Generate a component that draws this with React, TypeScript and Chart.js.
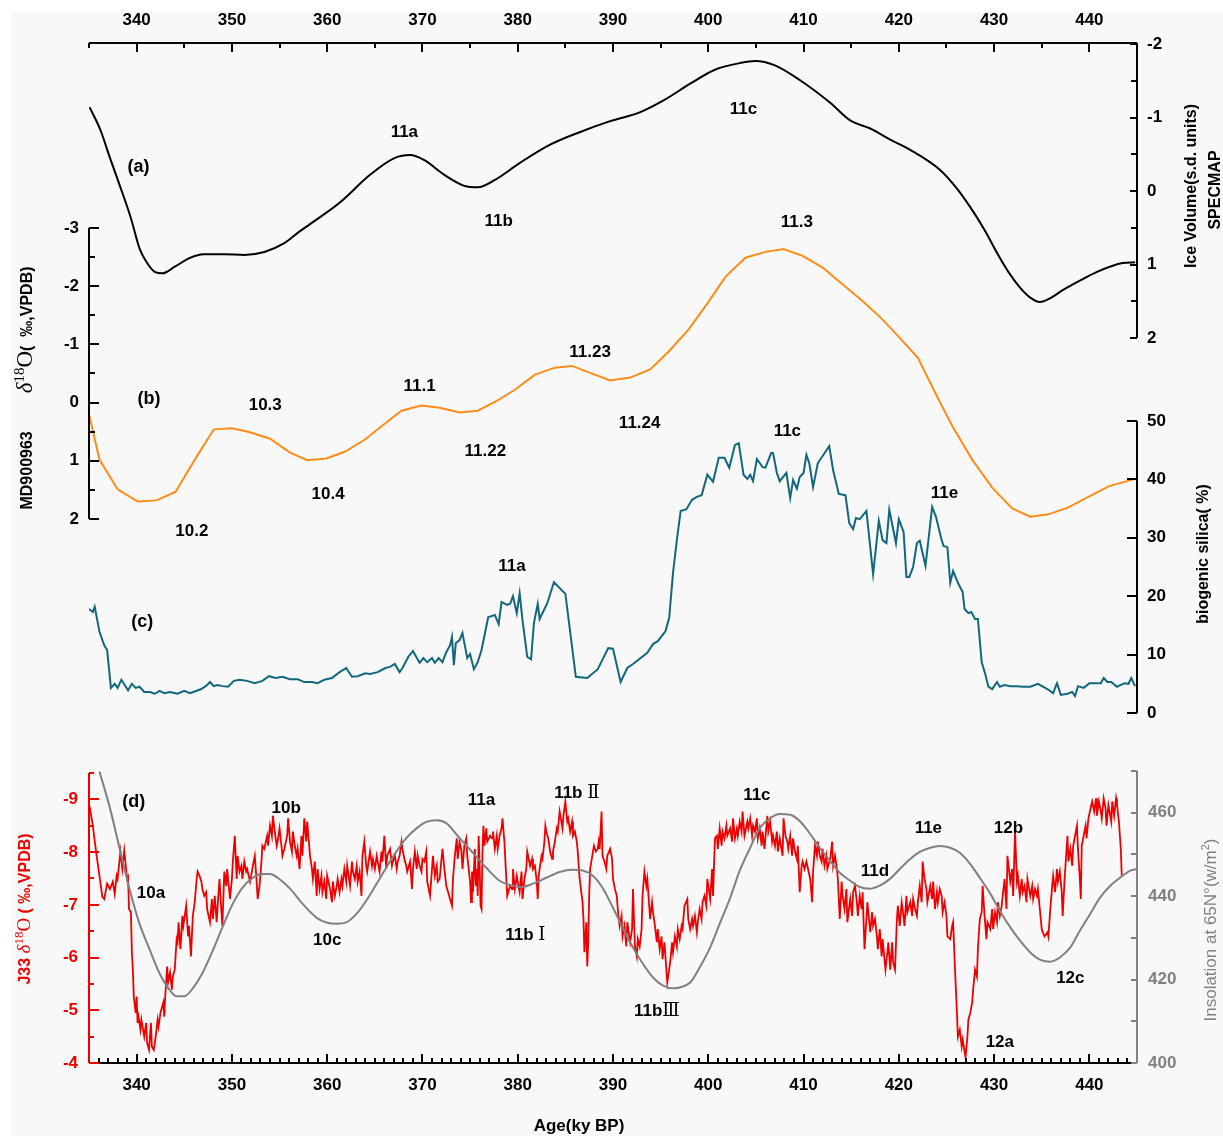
import { useEffect, useRef } from 'react';
import { Chart, registerables } from 'chart.js';

Chart.register(...registerables);

// ---------------- tick labels ----------------
const ageTicks = [340, 350, 360, 370, 380, 390, 400, 410, 420, 430, 440];
const specmapTicks = [-2, -1, 0, 1, 2];
const md900963Ticks = [-3, -2, -1, 0, 1, 2];
const silicaTicks = [0, 10, 20, 30, 40, 50];
const j33Ticks = [-9, -8, -7, -6, -5, -4];
const insolationTicks = [400, 420, 440, 460];

// ---------------- series (age ky BP, value) ----------------
const specmap: [number, number][] = [
  [335.06, -1.14], [336.2, -0.83], [337.2, -0.45], [338.3, -0.05], [339.4, 0.37], [340.3, 0.78], [341.0, 0.96],
  [341.9, 1.1], [342.7, 1.12], [344.0, 1.03], [345.6, 0.91], [347.0, 0.86], [349.2, 0.86], [351.3, 0.87],
  [353.4, 0.83], [355.5, 0.71], [356.9, 0.57], [358.2, 0.45], [361.3, 0.16], [364.5, -0.22], [367.1, -0.45],
  [368.7, -0.49], [370.2, -0.42], [372.3, -0.22], [374.4, -0.07], [375.8, -0.05], [377.6, -0.15], [380.2, -0.38],
  [383.4, -0.63], [386.5, -0.8], [389.7, -0.95], [392.8, -1.07], [395.4, -1.24], [398.1, -1.46], [400.7, -1.65],
  [403.3, -1.74], [404.9, -1.77], [407.0, -1.71], [409.6, -1.51], [412.8, -1.2], [414.9, -0.96], [417.0, -0.85],
  [419.1, -0.7], [421.2, -0.56], [424.3, -0.29], [426.0, -0.05], [427.5, 0.22], [429.0, 0.53], [430.3, 0.84],
  [431.5, 1.1], [432.7, 1.31], [433.8, 1.45], [434.8, 1.51], [436.0, 1.45], [437.2, 1.35], [439.0, 1.22],
  [440.8, 1.1], [443.5, 0.98], [444.8, 0.97],
];

const md900963: [number, number][] = [
  [335.06, 0.24], [336.1, 0.98], [338.0, 1.49], [340.1, 1.7], [342.1, 1.68], [344.1, 1.53], [346.1, 0.98],
  [348.1, 0.46], [350.0, 0.44], [351.9, 0.51], [354.0, 0.62], [356.1, 0.86], [357.9, 0.99], [359.9, 0.96],
  [361.9, 0.84], [364.0, 0.63], [365.9, 0.38], [367.8, 0.14], [369.9, 0.05], [371.8, 0.09], [373.9, 0.17],
  [375.8, 0.14], [377.8, -0.03], [379.7, -0.22], [381.8, -0.48], [383.9, -0.6], [385.7, -0.63], [387.6, -0.51],
  [389.7, -0.38], [391.8, -0.43], [393.9, -0.57], [395.8, -0.87], [397.9, -1.25], [399.8, -1.68], [401.8, -2.16],
  [403.9, -2.49], [406.0, -2.59], [407.9, -2.64], [409.9, -2.52], [412.0, -2.32], [413.9, -2.06], [416.0, -1.77],
  [418.1, -1.46], [420.0, -1.13], [422.0, -0.77], [424.0, -0.11], [425.7, 0.43], [427.7, 0.98], [429.8, 1.46],
  [431.9, 1.82], [433.8, 1.96], [435.7, 1.92], [437.8, 1.8], [439.9, 1.62], [442.0, 1.44], [444.8, 1.31],
];

const silica: [number, number][] = [
  [335.0, 17.8], [335.4, 17.3], [335.6, 18.2], [336.1, 13.9], [336.6, 11.6], [336.9, 10.8], [337.3, 4.3],
  [337.7, 5.0], [338.0, 4.3], [338.4, 5.7], [339.1, 3.9], [339.5, 5.0], [339.9, 4.3], [340.3, 4.5], [340.8, 3.6],
  [341.4, 3.6], [341.9, 3.3], [342.4, 3.8], [342.9, 3.4], [343.5, 3.6], [344.3, 3.3], [345.0, 3.8], [345.6, 3.4],
  [346.3, 3.8], [346.8, 4.1], [347.4, 4.8], [347.7, 5.3], [348.1, 4.6], [348.5, 4.8], [349.0, 4.6], [349.6, 4.5],
  [350.2, 5.5], [350.8, 5.7], [351.6, 5.5], [352.4, 5.1], [353.2, 5.5], [353.9, 6.3], [354.6, 6.0], [355.3, 6.2],
  [356.1, 5.8], [356.9, 5.8], [357.6, 5.3], [358.4, 5.3], [359.0, 5.1], [359.7, 5.7], [360.5, 6.0], [361.3, 7.0],
  [362.0, 7.7], [362.6, 6.2], [363.2, 6.3], [364.0, 6.8], [364.5, 6.7], [365.3, 7.0], [366.1, 7.7], [366.6, 7.9],
  [367.1, 8.4], [367.6, 7.0], [367.9, 7.7], [368.5, 9.6], [369.0, 10.6], [369.7, 8.6], [370.1, 9.4], [370.5, 8.7],
  [371.0, 9.4], [371.3, 8.6], [371.7, 9.4], [372.1, 8.7], [372.5, 10.4], [372.9, 11.6], [373.1, 13.0], [373.3, 8.2],
  [373.5, 12.0], [373.9, 12.5], [374.2, 13.7], [374.7, 9.4], [375.0, 10.1], [375.4, 7.5], [375.8, 8.7], [376.2, 10.8],
  [376.9, 16.4], [377.6, 16.8], [378.0, 15.2], [378.3, 19.0], [378.9, 18.5], [379.2, 18.7], [379.5, 20.0],
  [379.9, 17.1], [380.2, 20.5], [380.5, 15.9], [381.0, 9.6], [381.4, 9.2], [381.7, 15.4], [382.1, 18.7],
  [382.3, 16.1], [383.1, 18.8], [383.8, 22.4], [385.0, 20.4], [386.1, 6.2], [387.3, 6.0], [388.4, 7.5],
  [389.5, 11.1], [390.0, 11.0], [390.8, 5.3], [391.5, 7.7], [392.1, 8.4], [393.6, 10.3], [394.2, 11.8],
  [394.7, 12.3], [395.5, 14.0], [395.9, 16.3], [396.3, 24.0], [396.7, 29.6], [397.1, 34.6], [397.7, 34.9],
  [398.3, 36.5], [398.8, 37.0], [399.3, 37.3], [399.9, 40.8], [400.5, 39.6], [401.1, 43.7], [401.7, 43.7],
  [402.2, 42.0], [402.8, 45.9], [403.2, 46.2], [403.7, 40.8], [404.1, 40.1], [404.4, 40.8], [404.7, 39.7],
  [405.1, 43.5], [405.7, 42.1], [406.0, 42.0], [406.6, 44.5], [406.8, 44.5], [407.2, 41.1], [407.5, 39.7],
  [408.2, 41.1], [408.6, 36.8], [408.9, 39.9], [409.3, 38.4], [409.6, 40.4], [410.0, 41.1], [410.3, 44.2],
  [410.6, 42.8], [411.0, 38.7], [411.5, 42.8], [412.7, 45.7], [413.1, 41.6], [413.7, 37.5], [414.4, 37.3],
  [414.8, 32.5], [415.2, 31.5], [415.5, 33.4], [415.9, 33.2], [416.6, 34.6], [417.3, 23.8], [417.6, 28.3],
  [417.9, 32.9], [418.3, 29.6], [418.7, 29.1], [419.0, 34.8], [419.7, 29.1], [420.0, 33.2], [420.5, 31.0],
  [420.8, 23.3], [421.1, 23.3], [421.5, 25.0], [421.9, 29.1], [422.2, 29.5], [422.8, 25.2], [423.5, 35.3],
  [423.9, 33.6], [424.5, 29.6], [424.7, 28.6], [425.1, 28.4], [425.4, 22.3], [425.7, 24.3], [426.2, 22.3],
  [426.7, 20.7], [426.9, 17.8], [427.3, 17.1], [427.6, 17.3], [428.0, 16.1], [428.3, 16.1], [428.7, 8.7],
  [429.1, 6.5], [429.4, 4.5], [429.8, 4.1], [430.3, 5.3], [430.6, 4.5], [431.1, 4.8], [431.7, 4.6], [432.4, 4.6],
  [433.1, 4.5], [433.8, 4.5], [434.6, 5.0], [435.6, 4.1], [436.2, 3.4], [436.6, 5.1], [437.0, 3.1], [437.7, 3.3],
  [438.2, 3.6], [438.5, 2.9], [438.8, 4.6], [439.4, 4.3], [440.0, 5.1], [441.2, 5.1], [441.5, 6.0], [441.9, 5.3],
  [442.3, 5.3], [442.9, 4.5], [443.7, 5.1], [444.1, 5.0], [444.4, 6.0], [444.8, 4.6],
];

const insolation: [number, number][] = [
  [336.1, 469.9], [337.2, 461.1], [338.2, 451.6], [339.3, 441.3], [340.3, 433.4], [341.4, 427.0], [342.4, 421.5],
  [343.5, 417.4], [344.2, 416.0], [345.0, 416.0], [345.9, 417.9], [346.9, 421.5], [348.0, 427.0], [349.0, 432.5],
  [350.1, 438.2], [351.1, 442.0], [352.2, 444.4], [353.1, 445.3], [354.0, 445.3], [354.8, 444.4], [356.1, 441.8],
  [357.4, 438.2], [358.9, 434.8], [359.9, 433.7], [361.0, 433.4], [362.0, 433.7], [363.1, 435.8], [364.1, 438.9],
  [365.2, 443.0], [366.2, 446.8], [367.3, 450.8], [368.3, 453.9], [369.4, 456.3], [370.4, 457.8], [371.5, 458.2],
  [372.5, 457.5], [373.9, 453.9], [375.3, 450.4], [376.7, 446.8], [378.1, 443.7], [379.5, 442.5], [380.5, 442.2],
  [381.6, 443.0], [383.0, 444.4], [384.4, 445.8], [385.8, 446.3], [386.9, 446.1], [387.9, 444.9], [388.9, 442.0],
  [390.0, 437.2], [391.0, 432.5], [392.1, 427.7], [393.1, 423.9], [394.2, 420.5], [395.2, 418.6], [396.3, 417.9],
  [397.0, 418.1], [398.1, 419.3], [399.1, 422.9], [400.2, 427.7], [401.2, 433.4], [402.3, 439.6], [403.3, 446.1],
  [404.4, 451.6], [405.4, 456.3], [406.5, 458.7], [407.5, 459.7], [408.6, 459.5], [409.6, 458.0], [410.7, 454.9],
  [411.7, 451.6], [412.8, 448.4], [413.8, 445.6], [414.9, 443.7], [415.9, 442.2], [417.0, 441.8], [418.0, 442.5],
  [419.1, 444.2], [420.1, 446.5], [421.2, 448.9], [422.2, 450.6], [423.3, 451.6], [424.3, 452.0], [425.4, 451.6],
  [426.4, 450.4], [427.5, 447.7], [428.5, 444.4], [429.6, 440.6], [430.6, 436.5], [431.7, 432.5], [432.7, 429.4],
  [433.8, 426.5], [434.8, 424.8], [435.9, 424.3], [436.9, 425.3], [438.0, 427.7], [439.0, 431.7], [440.1, 435.8],
  [441.1, 439.6], [442.2, 442.5], [443.2, 444.4], [444.3, 446.1], [445.0, 446.5],
];

const j33: [number, number][] = [
  [335.06, -8.87], [335.4, -8.5], [335.8, -7.93], [336.1, -7.55], [336.4, -7.15], [336.6, -7.11], [336.9, -7.4],
  [337.2, -7.3], [337.5, -7.44], [337.7, -7.21], [337.9, -7.55], [338.0, -7.49], [338.3, -8.01], [338.5, -7.68],
  [338.7, -8.03], [339.0, -7.49], [339.1, -7.53], [339.2, -6.92], [339.4, -6.86], [339.5, -6.1], [339.6, -5.77],
  [339.7, -5.26], [339.9, -4.95], [340.0, -5.26], [340.1, -4.76], [340.2, -4.88], [340.4, -4.63], [340.5, -4.82],
  [340.8, -4.5], [341.0, -4.76], [341.1, -4.38], [341.3, -4.25], [341.5, -4.76], [341.6, -4.31], [341.8, -4.25],
  [342.0, -4.5], [342.2, -4.82], [342.3, -4.69], [342.5, -4.95], [342.8, -5.15], [342.9, -4.88], [343.0, -5.26],
  [343.2, -5.83], [343.3, -5.53], [343.5, -5.72], [343.7, -5.39], [343.8, -5.64], [344.0, -5.77], [344.2, -6.35],
  [344.3, -6.29], [344.4, -6.67], [344.6, -6.16], [344.8, -6.79], [344.9, -6.6], [345.2, -6.98], [345.4, -6.4],
  [345.5, -6.6], [345.7, -6.02], [345.9, -6.79], [346.1, -7.05], [346.3, -7.49], [346.4, -7.63], [346.6, -7.55],
  [346.8, -7.44], [346.9, -7.3], [347.1, -7.17], [347.3, -7.24], [347.4, -6.92], [347.7, -6.67], [347.9, -7.11],
  [348.0, -6.73], [348.2, -7.17], [348.4, -6.67], [348.5, -6.98], [348.7, -7.49], [348.9, -6.86], [349.0, -6.6],
  [349.2, -7.63], [349.4, -7.36], [349.5, -7.68], [349.8, -7.11], [350.0, -7.49], [350.1, -7.82], [350.3, -8.31],
  [350.5, -7.49], [350.6, -7.93], [350.8, -7.63], [351.0, -7.74], [351.1, -7.49], [351.3, -7.82], [351.5, -7.63],
  [351.6, -7.68], [351.9, -7.44], [352.1, -7.63], [352.2, -7.74], [352.4, -7.93], [352.6, -7.44], [352.7, -7.11],
  [352.9, -7.36], [353.1, -7.82], [353.2, -8.12], [353.4, -8.06], [353.7, -8.31], [353.8, -8.12], [354.0, -8.5],
  [354.2, -8.31], [354.3, -8.69], [354.5, -8.39], [354.7, -8.12], [354.8, -8.2], [355.0, -8.45], [355.2, -8.12],
  [355.3, -7.93], [355.5, -8.06], [355.8, -8.31], [355.9, -8.64], [356.1, -8.2], [356.3, -8.01], [356.4, -8.39],
  [356.6, -8.12], [356.8, -7.93], [356.9, -8.06], [357.1, -7.68], [357.3, -8.31], [357.4, -7.93], [357.6, -8.64],
  [357.8, -8.2], [357.9, -8.58], [358.2, -7.93], [358.4, -7.68], [358.5, -7.49], [358.7, -7.82], [358.9, -7.17],
  [359.0, -7.68], [359.2, -7.3], [359.4, -7.55], [359.5, -7.24], [359.7, -7.44], [359.9, -7.11], [360.0, -7.55],
  [360.3, -7.3], [360.5, -7.05], [360.6, -7.44], [360.8, -7.17], [361.0, -7.36], [361.1, -7.49], [361.3, -7.24],
  [361.5, -7.49], [361.6, -7.36], [361.8, -7.68], [362.0, -7.44], [362.1, -7.74], [362.4, -7.36], [362.6, -7.82],
  [362.7, -7.63], [362.9, -7.49], [363.1, -7.74], [363.2, -7.44], [363.4, -7.63], [363.6, -7.17], [363.7, -7.93],
  [363.9, -8.2], [364.1, -7.74], [364.2, -7.63], [364.5, -8.01], [364.7, -7.74], [364.8, -7.87], [365.0, -7.68],
  [365.2, -7.93], [365.3, -7.82], [365.5, -7.63], [365.7, -8.01], [365.8, -7.82], [366.0, -8.31], [366.2, -7.68],
  [366.3, -7.93], [366.6, -8.06], [366.8, -7.74], [366.9, -7.82], [367.1, -7.93], [367.3, -7.68], [367.4, -7.82],
  [367.6, -7.93], [367.8, -8.2], [367.9, -8.06], [368.1, -7.87], [368.3, -7.74], [368.4, -7.63], [368.7, -7.82],
  [368.9, -7.3], [369.0, -7.68], [369.2, -8.01], [369.4, -7.68], [369.5, -7.93], [369.7, -7.74], [369.9, -7.63],
  [370.0, -7.87], [370.2, -7.82], [370.4, -8.01], [370.5, -7.44], [370.8, -7.17], [371.0, -7.68], [371.1, -7.93],
  [371.3, -7.55], [371.5, -7.74], [371.6, -7.44], [371.8, -7.49], [372.1, -8.06], [372.3, -7.68], [372.5, -7.36],
  [372.8, -7.17], [373.1, -6.98], [373.2, -7.49], [373.4, -7.93], [373.6, -8.26], [373.7, -7.87], [373.9, -8.2],
  [374.1, -8.01], [374.2, -7.68], [374.4, -8.12], [374.6, -8.26], [374.7, -7.93], [375.0, -7.44], [375.1, -7.05],
  [375.2, -7.63], [375.3, -7.24], [375.5, -8.06], [375.6, -7.36], [375.7, -7.68], [375.8, -7.17], [375.9, -8.31],
  [376.0, -7.74], [376.1, -6.98], [376.2, -6.92], [376.3, -8.01], [376.4, -8.5], [376.5, -8.12], [376.7, -8.45],
  [376.8, -8.2], [377.1, -8.31], [377.3, -8.26], [377.4, -8.39], [377.6, -8.06], [377.8, -8.31], [377.9, -8.06],
  [378.1, -8.31], [378.3, -8.45], [378.4, -8.64], [378.6, -8.2], [378.8, -7.49], [378.9, -7.17], [379.2, -7.36],
  [379.4, -7.3], [379.5, -7.68], [379.7, -7.3], [379.9, -7.55], [380.0, -7.44], [380.2, -7.24], [380.4, -7.63],
  [380.5, -7.11], [380.7, -7.49], [380.9, -7.68], [381.0, -8.01], [381.3, -7.74], [381.5, -7.87], [381.6, -7.68],
  [381.8, -7.74], [382.0, -7.44], [382.1, -7.11], [382.2, -7.55], [382.3, -7.68], [382.5, -7.93], [382.6, -7.87],
  [382.8, -8.2], [382.9, -8.5], [383.0, -8.39], [383.2, -8.26], [383.4, -8.01], [383.6, -7.87], [383.7, -8.01],
  [383.9, -8.2], [384.1, -8.45], [384.2, -8.39], [384.4, -8.77], [384.7, -8.45], [384.8, -8.69], [385.0, -8.96],
  [385.2, -8.58], [385.3, -8.64], [385.5, -8.39], [385.7, -8.58], [385.8, -8.31], [386.0, -8.39], [386.2, -8.2],
  [386.3, -8.01], [386.5, -7.49], [386.8, -7.05], [386.9, -6.73], [387.0, -6.1], [387.2, -6.67], [387.3, -5.83],
  [387.4, -6.29], [387.5, -7.17], [387.6, -7.68], [387.9, -8.01], [388.0, -8.12], [388.2, -8.01], [388.4, -8.06],
  [388.5, -8.2], [388.6, -8.06], [388.8, -8.77], [388.9, -7.93], [389.1, -7.82], [389.3, -7.68], [389.4, -7.93],
  [389.7, -8.06], [389.9, -7.87], [390.0, -7.49], [390.2, -7.3], [390.4, -7.17], [390.5, -6.92], [390.7, -6.6],
  [390.9, -6.79], [391.0, -6.4], [391.2, -6.6], [391.4, -6.21], [391.5, -6.67], [391.8, -6.29], [392.0, -6.54],
  [392.1, -7.3], [392.3, -6.21], [392.5, -6.02], [392.6, -6.35], [392.8, -6.21], [393.0, -6.54], [393.1, -7.17],
  [393.3, -7.63], [393.5, -7.36], [393.6, -7.49], [393.9, -6.73], [394.1, -7.05], [394.2, -6.86], [394.4, -6.6],
  [394.6, -6.29], [394.7, -6.54], [394.9, -6.16], [395.1, -6.4], [395.2, -5.97], [395.4, -6.29], [395.6, -5.77],
  [395.7, -5.53], [396.0, -5.91], [396.2, -6.29], [396.3, -6.1], [396.5, -6.4], [396.7, -6.21], [396.8, -6.54],
  [397.0, -6.35], [397.2, -6.6], [397.3, -6.54], [397.5, -6.98], [397.8, -7.11], [397.9, -6.73], [398.1, -6.54],
  [398.3, -6.73], [398.4, -6.6], [398.6, -6.79], [398.8, -6.48], [398.9, -6.67], [399.1, -6.92], [399.3, -6.73],
  [399.4, -7.05], [399.6, -7.17], [399.8, -6.98], [399.9, -7.49], [400.2, -7.11], [400.4, -7.68], [400.5, -7.17],
  [400.7, -8.26], [400.9, -8.31], [401.0, -8.06], [401.2, -8.45], [401.4, -8.12], [401.5, -8.39], [401.7, -8.26],
  [401.9, -8.5], [402.0, -8.31], [402.3, -8.45], [402.5, -8.2], [402.6, -8.64], [402.8, -8.26], [403.0, -8.45],
  [403.1, -8.31], [403.3, -8.58], [403.5, -8.39], [403.6, -8.77], [403.8, -8.31], [404.1, -8.58], [404.2, -8.45],
  [404.4, -8.64], [404.6, -8.31], [404.7, -8.5], [404.9, -8.39], [405.1, -8.64], [405.2, -8.26], [405.4, -8.45],
  [405.6, -8.12], [405.7, -8.39], [405.9, -8.06], [406.2, -8.69], [406.3, -8.39], [406.5, -8.58], [406.7, -8.2],
  [406.8, -8.31], [407.0, -8.12], [407.2, -8.39], [407.3, -8.01], [407.5, -8.26], [407.8, -7.93], [407.9, -8.64],
  [408.1, -8.31], [408.3, -8.2], [408.4, -8.06], [408.6, -8.31], [408.8, -7.93], [408.9, -8.26], [409.1, -8.01],
  [409.3, -7.87], [409.4, -8.12], [409.6, -7.24], [409.8, -7.74], [409.9, -7.82], [410.1, -7.68], [410.3, -7.82],
  [410.4, -7.74], [410.7, -7.49], [410.9, -7.05], [411.0, -7.63], [411.2, -8.12], [411.4, -7.93], [411.5, -8.2],
  [411.7, -7.93], [411.9, -7.82], [412.0, -8.06], [412.2, -7.74], [412.4, -7.93], [412.5, -7.68], [412.8, -7.87],
  [413.0, -8.2], [413.1, -7.74], [413.3, -7.93], [413.5, -7.68], [413.6, -7.49], [413.8, -6.73], [414.0, -7.44],
  [414.1, -7.17], [414.3, -6.92], [414.5, -7.3], [414.6, -6.67], [414.9, -7.11], [415.1, -6.79], [415.2, -7.24],
  [415.4, -7.36], [415.6, -7.05], [415.7, -6.79], [415.9, -7.17], [416.1, -6.92], [416.2, -7.24], [416.4, -6.16],
  [416.6, -6.73], [416.7, -7.05], [417.0, -6.48], [417.2, -6.86], [417.3, -6.6], [417.5, -6.73], [417.7, -6.4],
  [417.8, -6.16], [418.0, -6.54], [418.2, -6.02], [418.3, -6.35], [418.6, -5.77], [418.8, -6.1], [418.9, -6.29],
  [419.1, -5.77], [419.3, -6.29], [419.4, -5.91], [419.6, -5.77], [419.8, -6.73], [419.9, -6.98], [420.1, -6.6],
  [420.3, -7.05], [420.4, -6.92], [420.6, -6.6], [420.8, -7.17], [420.9, -6.86], [421.2, -7.05], [421.4, -6.79],
  [421.5, -7.11], [421.7, -6.92], [421.9, -6.79], [422.0, -7.05], [422.2, -7.36], [422.4, -7.05], [422.5, -7.82],
  [422.7, -7.49], [422.9, -7.3], [423.0, -7.05], [423.3, -7.36], [423.5, -7.11], [423.6, -7.44], [423.8, -6.92],
  [424.0, -7.24], [424.1, -7.05], [424.3, -7.3], [424.5, -7.17], [424.6, -6.86], [424.8, -7.05], [425.0, -6.79],
  [425.1, -6.4], [425.4, -6.35], [425.6, -6.6], [425.7, -6.67], [425.9, -5.77], [426.1, -4.95], [426.2, -4.5],
  [426.4, -4.63], [426.6, -4.31], [426.7, -4.44], [427.0, -4.11], [427.2, -4.5], [427.3, -4.82], [427.5, -4.95],
  [427.7, -5.15], [427.8, -5.39], [428.0, -5.77], [428.2, -5.64], [428.3, -6.16], [428.5, -6.73], [428.7, -6.86],
  [428.8, -7.36], [429.0, -6.79], [429.2, -6.35], [429.3, -6.67], [429.6, -6.54], [429.8, -6.92], [429.9, -6.54],
  [430.1, -6.86], [430.3, -6.67], [430.4, -7.05], [430.6, -6.79], [430.8, -6.98], [430.9, -7.17], [431.1, -7.49],
  [431.3, -6.92], [431.4, -7.93], [431.7, -7.44], [431.9, -7.68], [432.0, -7.17], [432.2, -8.39], [432.4, -7.44],
  [432.5, -7.55], [432.7, -7.17], [432.9, -7.49], [433.0, -7.24], [433.2, -7.36], [433.4, -7.05], [433.5, -7.49],
  [433.8, -7.17], [434.0, -7.36], [434.1, -7.11], [434.3, -7.3], [434.5, -7.17], [434.6, -7.3], [434.8, -6.92],
  [435.0, -6.54], [435.1, -6.48], [435.3, -6.4], [435.6, -6.48], [435.7, -6.4], [435.9, -6.92], [436.1, -7.36],
  [436.2, -7.55], [436.4, -7.24], [436.6, -7.68], [436.7, -7.44], [436.9, -7.63], [437.1, -7.24], [437.2, -6.79],
  [437.4, -7.49], [437.7, -8.31], [437.8, -7.82], [438.0, -8.06], [438.2, -7.74], [438.3, -8.12], [438.5, -8.31],
  [438.7, -8.5], [438.8, -8.06], [439.0, -7.49], [439.1, -7.11], [439.2, -8.12], [439.4, -8.31], [439.6, -8.5],
  [439.7, -8.26], [439.9, -8.64], [440.2, -8.89], [440.3, -8.96], [440.5, -8.77], [440.7, -9.02], [440.8, -8.69],
  [441.0, -8.96], [441.2, -8.77], [441.3, -8.64], [441.5, -9.02], [441.7, -8.83], [441.8, -8.5], [442.0, -8.89],
  [442.3, -8.58], [442.4, -8.96], [442.6, -8.69], [442.8, -9.02], [442.9, -8.89], [443.1, -8.58], [443.3, -8.06],
  [443.4, -7.55],
];

// ---------------- annotations (text, age, value on the panel's axis) ----------------
type Note = [string, number, number];
const specmapNotes: Note[] = [['(a)', 340.2, -0.35], ['11a', 368.1, -0.82], ['11b', 378.0, 0.39], ['11c', 403.7, -1.13]];
const md900963Notes: Note[] = [
  ['(b)', 341.3, -0.09], ['10.3', 353.5, 0.03], ['10.2', 345.8, 2.18], ['10.4', 360.1, 1.55], ['11.1', 369.7, -0.31],
  ['11.22', 376.6, 0.82], ['11.23', 387.6, -0.89], ['11.24', 392.8, 0.33], ['11.3', 409.3, -3.13],
];
const silicaNotes: Note[] = [['(c)', 340.6, 15.9], ['11a', 379.4, 25.3], ['11c', 408.3, 48.5], ['11e', 424.8, 37.8]];
const j33Notes: Note[] = [
  ['(d)', 339.7, -8.98], ['10a', 341.5, -7.24], ['10b', 355.7, -8.85], ['10c', 360.0, -6.35], ['11a', 376.2, -9.0],
  ['11b Ⅱ', 386.2, -9.15], ['11b Ⅰ', 380.8, -6.44], ['11bⅢ', 394.6, -5.01], ['11c', 405.1, -9.1],
  ['11d', 417.5, -7.66], ['11e', 423.1, -8.48], ['12b', 431.5, -8.48], ['12c', 438.0, -5.64], ['12a', 430.6, -4.42],
];

// ---------------- layout / style ----------------
const W = 1223;
const H = 1136;
const AREA = { left: 89, right: 1137, top: 43, bottom: 1063 };
const AGE_MIN = 335;
const AGE_MAX = 445;
const SANS = '"Liberation Sans", Arial, Helvetica, sans-serif';
const SERIF = '"Liberation Serif", "Times New Roman", serif';
const ROMAN = '"DejaVu Serif", "Liberation Serif", "Noto Sans CJK SC", serif';
const RED = '#ee0000';
const GRAY = '#808080';
const ORANGE = '#ff8c1a';
const TEAL = '#12687a';

// where each partial axis sits (value at its top end / bottom end, and the pixel rows)
const PLACE: Record<string, { vTop: number; pTop: number; vBot: number; pBot: number }> = {
  yA: { vTop: -2, pTop: 44, vBot: 2, pBot: 338 },
  yB: { vTop: -3, pTop: 228, vBot: 2, pBot: 519 },
  yC: { vTop: 50, pTop: 421, vBot: 0, pBot: 713 },
  yD: { vTop: -9.5, pTop: 773, vBot: -4, pBot: 1063 },
  yE: { vTop: 470, pTop: 771, vBot: 400, pBot: 1063 },
};

function rangeFor(id: string) {
  const p = PLACE[id];
  const k = (p.vBot - p.vTop) / (p.pBot - p.pTop);
  const a = p.vTop + (AREA.top - p.pTop) * k;
  const b = p.vTop + (AREA.bottom - p.pTop) * k;
  return { min: Math.min(a, b), max: Math.max(a, b), reverse: p.vTop < p.vBot };
}

const tickFont = { family: SANS, size: 17, weight: 'bold' as const };
const TICK_FONT_CSS = `bold 17px ${SANS}`;

function yScale(id: string, position: string, weight: number, width: number, ticks: number[], color: string, showLabels: boolean) {
  const r = rangeFor(id);
  return {
    type: 'linear',
    position,
    weight,
    min: r.min,
    max: r.max,
    reverse: r.reverse,
    afterFit: (s: any) => { s.width = width; },
    afterBuildTicks: (s: any) => { s.ticks = ticks.map((v) => ({ value: v })); },
    grid: { display: false, drawTicks: false },
    border: { display: false },
    ticks: { display: showLabels, color, font: tickFont, padding: 10, autoSkip: false, callback: (v: any) => String(v) },
  };
}

function xScale(position: string, height: number) {
  return {
    type: 'linear',
    position,
    min: AGE_MIN,
    max: AGE_MAX,
    afterFit: (s: any) => { s.height = height; },
    afterBuildTicks: (s: any) => { s.ticks = ageTicks.map((v) => ({ value: v })); },
    grid: { display: false, drawTicks: false },
    border: { display: false },
    ticks: { color: '#000', font: tickFont, padding: 12, autoSkip: false, maxRotation: 0, minRotation: 0, callback: (v: any) => String(v) },
  };
}

type Seg = { t: string; font: string; dy?: number; gap?: number };

function drawSegs(ctx: CanvasRenderingContext2D, segs: Seg[], cx: number, cy: number, rot: number, color: string, size: number) {
  ctx.save();
  ctx.translate(cx, cy);
  if (rot) ctx.rotate(rot);
  ctx.fillStyle = color;
  ctx.textAlign = 'left';
  ctx.textBaseline = 'alphabetic';
  let total = 0;
  const widths = segs.map((s) => {
    ctx.font = s.font;
    const w = ctx.measureText(s.t).width + (s.gap || 0);
    total += w;
    return w;
  });
  let x = -total / 2;
  const base = size * 0.36;
  segs.forEach((s, i) => {
    ctx.font = s.font;
    ctx.fillText(s.t, x, base + (s.dy || 0));
    x += widths[i];
  });
  ctx.restore();
}

function noteSegs(text: string, size: number): Seg[] {
  const segs: Seg[] = [];
  let buf = '';
  let roman = false;
  for (const ch of text) {
    const r = 'ⅠⅡⅢ'.includes(ch);
    if (buf && r !== roman) {
      segs.push({ t: buf, font: roman ? `${size + 1}px ${ROMAN}` : `bold ${size}px ${SANS}` });
      buf = '';
    }
    roman = r;
    buf += ch;
  }
  if (buf) segs.push({ t: buf, font: roman ? `${size + 1}px ${ROMAN}` : `bold ${size}px ${SANS}` });
  return segs;
}

function vAxis(ctx: CanvasRenderingContext2D, s: any, x: number, from: number, to: number, marks: [number, number][], dir: number, color: string) {
  ctx.strokeStyle = color;
  ctx.lineWidth = 2;
  ctx.beginPath();
  ctx.moveTo(x, s.getPixelForValue(from));
  ctx.lineTo(x, s.getPixelForValue(to));
  for (const [v, len] of marks) {
    const y = Math.round(s.getPixelForValue(v));
    ctx.moveTo(x, y);
    ctx.lineTo(x + dir * len, y);
  }
  ctx.stroke();
}

function hAxis(ctx: CanvasRenderingContext2D, s: any, y: number, from: number, to: number, marks: [number, number][], dir: number, color: string) {
  ctx.strokeStyle = color;
  ctx.lineWidth = 2;
  ctx.beginPath();
  ctx.moveTo(s.getPixelForValue(from), y);
  ctx.lineTo(s.getPixelForValue(to), y);
  for (const [v, len] of marks) {
    const x = Math.round(s.getPixelForValue(v));
    ctx.moveTo(x, y);
    ctx.lineTo(x, y + dir * len);
  }
  ctx.stroke();
}

function marksEvery(from: number, to: number, step: number, majorEvery: number, majorLen: number, minorLen: number): [number, number][] {
  const out: [number, number][] = [];
  const n = Math.round((to - from) / step);
  for (let i = 0; i <= n; i++) {
    const v = +(from + i * step).toFixed(3);
    const isMajor = Math.abs(v / majorEvery - Math.round(v / majorEvery)) < 1e-6;
    out.push([v, isMajor ? majorLen : minorLen]);
  }
  return out;
}

// tick labels for the inner (zero-width) axes, placed through their scales
function tickLabels(ctx: CanvasRenderingContext2D, s: any, ticks: number[], x: number, align: CanvasTextAlign, color: string) {
  ctx.save();
  ctx.font = TICK_FONT_CSS;
  ctx.fillStyle = color;
  ctx.textAlign = align;
  ctx.textBaseline = 'middle';
  for (const v of ticks) ctx.fillText(String(v), x, s.getPixelForValue(v));
  ctx.restore();
}

const decorPlugin = {
  id: 'decor',
  beforeDraw(chart: any) {
    const ctx = chart.ctx as CanvasRenderingContext2D;
    ctx.save();
    ctx.fillStyle = '#ffffff';
    ctx.fillRect(0, 0, W, H);
    ctx.fillStyle = '#f8f8f8';
    ctx.fillRect(11, 12, W - 11, H - 12);
    ctx.restore();
  },
  afterDraw(chart: any) {
    const ctx = chart.ctx as CanvasRenderingContext2D;
    const { left, right, top, bottom } = chart.chartArea;
    const sx = chart.scales.x;
    const { yA, yB, yC, yD, yE } = chart.scales;
    ctx.save();
    ctx.lineCap = 'butt';

    // axes
    hAxis(ctx, sx, top, AGE_MIN, AGE_MAX, marksEvery(335, 445, 5, 10, 9, 5), 1, '#000');
    hAxis(ctx, sx, bottom, AGE_MIN, AGE_MAX, marksEvery(336, 444, 1, 10, 9, 5), -1, '#000');
    vAxis(ctx, yA, right, -2, 2, marksEvery(-2, 2, 0.5, 1, 7, 6), -1, '#000');
    vAxis(ctx, yB, left, -3, 2, marksEvery(-3, 2, 0.5, 1, 10, 6), 1, '#000');
    vAxis(ctx, yC, right, 0, 50, marksEvery(0, 50, 10, 10, 10, 10), -1, '#000');
    vAxis(ctx, yE, right, 400, 470, marksEvery(400, 470, 10, 20, 6, 6), -1, GRAY);
    vAxis(ctx, yD, left, -9.5, -4, marksEvery(-9.5, -4, 0.5, 1, 10, 5), 1, RED);

    tickLabels(ctx, yC, silicaTicks, right + 10, 'left', '#000');
    tickLabels(ctx, yE, insolationTicks, right + 11, 'left', GRAY);
    tickLabels(ctx, yD, j33Ticks, left - 11, 'right', RED);

    // annotations
    const put = (notes: Note[], s: any) => {
      for (const [t, age, v] of notes) {
        const big = t.startsWith('(');
        const size = big ? 18 : 17;
        drawSegs(ctx, noteSegs(t, size), sx.getPixelForValue(age), s.getPixelForValue(v), 0, '#000', size);
      }
    };
    put(specmapNotes, yA);
    put(md900963Notes, yB);
    put(silicaNotes, yC);
    put(j33Notes, yD);

    // axis titles
    const up = -Math.PI / 2;
    drawSegs(ctx, [{ t: 'Ice Volume(s.d. units)', font: `bold 16px ${SANS}` }], 1190, 186, up, '#000', 16);
    drawSegs(ctx, [{ t: 'SPECMAP', font: `bold 16px ${SANS}` }], 1214, 190, up, '#000', 16);
    drawSegs(ctx, [{ t: 'biogenic silica( %)', font: `bold 16px ${SANS}` }], 1202, 554, up, '#000', 16);
    drawSegs(ctx, [
      { t: 'Insolation at 65N°(w/m', font: `17px ${SANS}` },
      { t: '2', font: `11px ${SANS}`, dy: -7 },
      { t: ')', font: `17px ${SANS}` },
    ], 1210, 930, up, GRAY, 17);
    drawSegs(ctx, [
      { t: 'MD900963', font: `bold 16px ${SANS}`, gap: 38 },
      { t: 'δ', font: `italic 23px ${SERIF}` },
      { t: '18', font: `15px ${SERIF}`, dy: -8 },
      { t: 'O', font: `23px ${SERIF}` },
      { t: '(  ‰,VPDB)', font: `bold 16px ${SANS}` },
    ], 26, 388, up, '#000', 16);
    drawSegs(ctx, [
      { t: 'J33 ', font: `bold 16px ${SANS}` },
      { t: 'δ', font: `italic 19px ${SERIF}` },
      { t: '18', font: `13px ${SERIF}`, dy: -7 },
      { t: 'O', font: `19px ${SERIF}` },
      { t: ' ( ‰,VPDB)', font: `bold 16px ${SANS}` },
    ], 24, 909, up, RED, 16);
    drawSegs(ctx, [{ t: 'Age(ky BP)', font: `bold 17px ${SANS}` }], 579, 1125, 0, '#000', 17);
    ctx.restore();
  },
};

const toXY = (arr: [number, number][]) => arr.map(([x, y]) => ({ x, y }));

export default function App() {
  const ref = useRef<HTMLCanvasElement | null>(null);
  useEffect(() => {
    if (!ref.current) return;
    const chart = new Chart(ref.current, {
      type: 'line',
      data: {
        datasets: [
          { label: 'Insolation', data: toXY(insolation), xAxisID: 'x', yAxisID: 'yE', borderColor: GRAY, borderWidth: 2, pointRadius: 0, cubicInterpolationMode: 'monotone', fill: false },
          { label: 'SPECMAP', data: toXY(specmap), xAxisID: 'x', yAxisID: 'yA', borderColor: '#000', borderWidth: 2, pointRadius: 0, cubicInterpolationMode: 'monotone', fill: false },
          { label: 'MD900963', data: toXY(md900963), xAxisID: 'x', yAxisID: 'yB', borderColor: ORANGE, borderWidth: 2, pointRadius: 0, tension: 0, fill: false },
          { label: 'Biogenic silica', data: toXY(silica), xAxisID: 'x', yAxisID: 'yC', borderColor: TEAL, borderWidth: 2, pointRadius: 0, tension: 0, fill: false },
          { label: 'J33', data: toXY(j33), xAxisID: 'x', yAxisID: 'yD', borderColor: RED, borderWidth: 1.8, pointRadius: 0, tension: 0, fill: false },
        ],
      } as any,
      options: {
        responsive: false,
        animation: false,
        events: [],
        layout: { padding: 0, autoPadding: false },
        plugins: { legend: { display: false }, tooltip: { enabled: false }, title: { display: false } },
        scales: {
          x: xScale('bottom', H - AREA.bottom),
          xTop: xScale('top', AREA.top),
          yB: yScale('yB', 'left', 1, AREA.left, md900963Ticks, '#000', true),
          yD: yScale('yD', 'left', 0, 0, j33Ticks, RED, false),
          yC: yScale('yC', 'right', 0, 0, silicaTicks, '#000', false),
          yE: yScale('yE', 'right', 0, 0, insolationTicks, GRAY, false),
          yA: yScale('yA', 'right', 1, W - AREA.right, specmapTicks, '#000', true),
        } as any,
      },
      plugins: [decorPlugin],
    } as any);
    return () => chart.destroy();
  }, []);
  return (
    <div style={{ position: 'fixed', left: 0, top: 0, width: W, height: H }}>
      <canvas ref={ref} width={W} height={H} style={{ display: 'block', width: W, height: H }} />
    </div>
  );
}
